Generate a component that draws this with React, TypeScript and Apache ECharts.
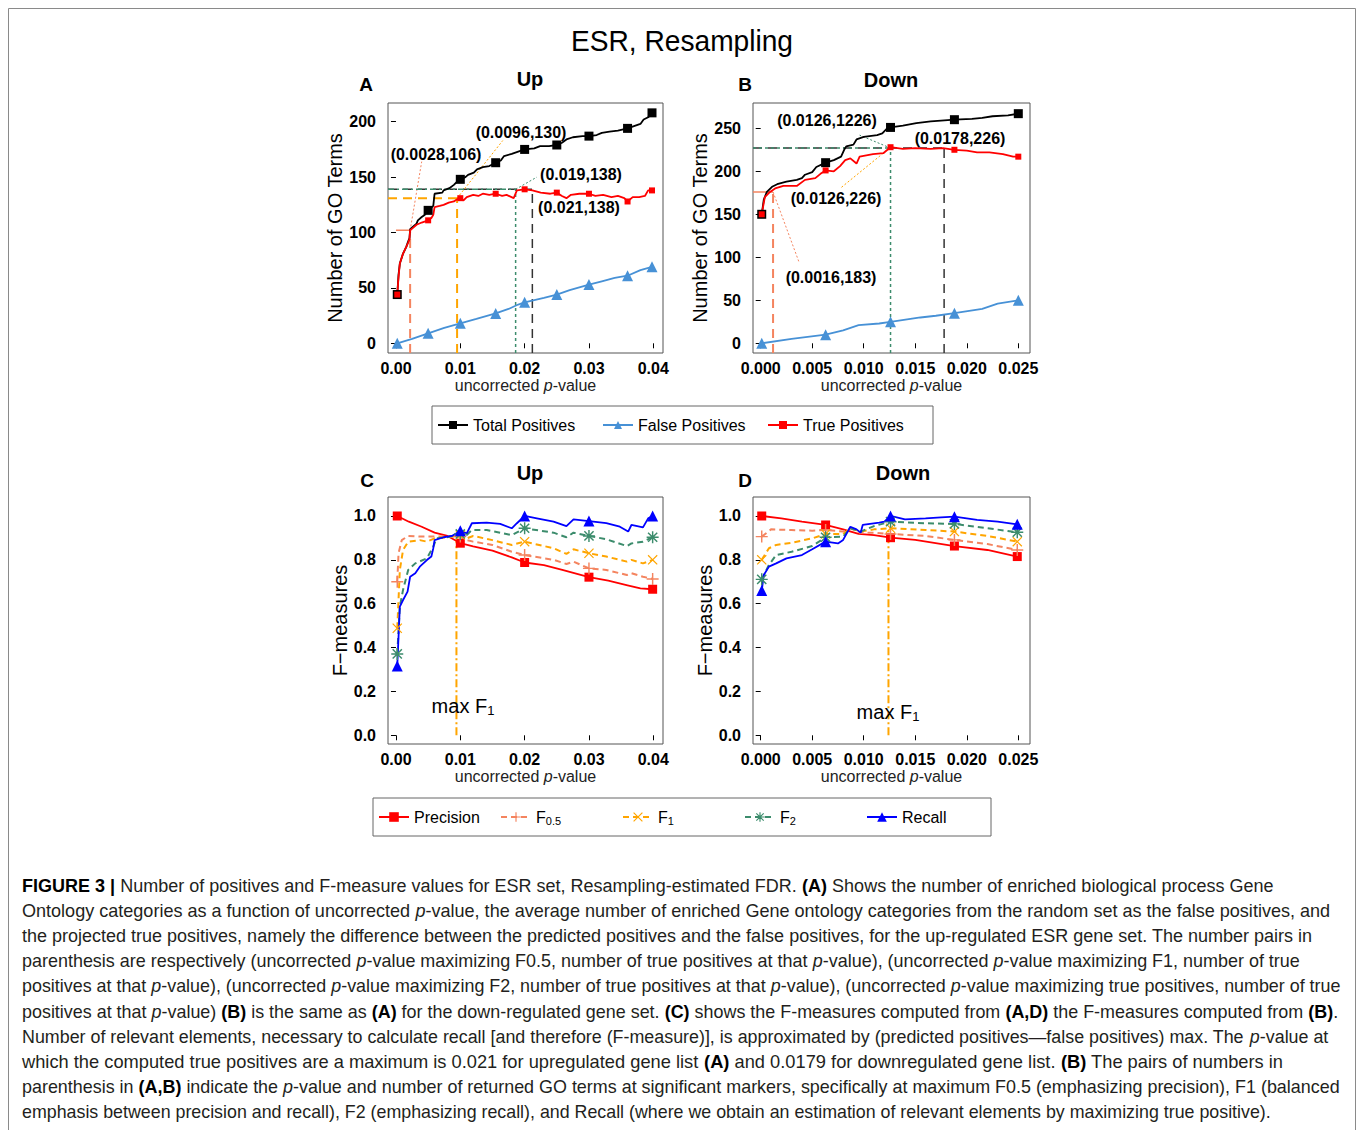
import React, { useEffect, useRef } from "react";
import * as echarts from "echarts";

const FONT = "'Liberation Sans', Arial, Helvetica, sans-serif";
const CAP = "#231f20";

// ---------- Panel A (Up): number of GO terms vs uncorrected p ----------
const totalUp: number[][] = [[0.0002,44],[0.0004,62],[0.0006,72],[0.0011,81],[0.0016,87],[0.0019,92],[0.0021,95],[0.0022,103],[0.0026,105],[0.0032,108],[0.0034,111],[0.0040,114],[0.0045,116],[0.0050,120],[0.0054,122],[0.0058,124],[0.0060,135],[0.0072,136],[0.0074,138],[0.0083,140],[0.0090,143],[0.0095,146],[0.0100,148],[0.0108,150],[0.0112,152],[0.0121,154],[0.0126,157],[0.0135,159],[0.0145,160],[0.0155,163],[0.0163,165],[0.0168,169],[0.0180,171],[0.0190,173],[0.0200,175],[0.0215,176],[0.0224,178],[0.0238,178],[0.0250,179],[0.0258,181],[0.0265,184],[0.0275,186],[0.0290,187],[0.0300,187],[0.0312,188],[0.0320,190],[0.0332,191],[0.0345,192],[0.0360,194],[0.0370,196],[0.0380,198],[0.0385,202],[0.0392,204],[0.0398,208]];
const trueUp: number[][] = [[0.0002,44],[0.0004,60],[0.0006,72],[0.0011,81],[0.0016,87],[0.0019,91],[0.0021,94],[0.0022,102],[0.0026,104],[0.0032,107],[0.0040,109],[0.0050,111],[0.0055,113],[0.0058,116],[0.0060,123],[0.0068,124],[0.0074,125],[0.0082,127],[0.0090,128],[0.0095,130],[0.0100,131],[0.0105,129],[0.0110,132],[0.0120,134],[0.0128,133],[0.0135,135],[0.0145,134],[0.0155,135],[0.0165,133],[0.0172,134],[0.0183,131],[0.0188,138],[0.0200,139],[0.0212,138],[0.0225,136],[0.0240,135],[0.0250,136],[0.0258,133],[0.0265,131],[0.0272,134],[0.0285,135],[0.0300,135],[0.0310,133],[0.0322,134],[0.0335,132],[0.0345,133],[0.0355,131],[0.0360,128],[0.0368,132],[0.0378,132],[0.0387,133],[0.0392,138],[0.0398,138]];
const falseUp: number[][] = [[0.0002,0],[0.0025,4],[0.0050,9],[0.0075,14],[0.0100,18],[0.0125,22],[0.0155,27],[0.0175,31],[0.0190,35],[0.0200,37],[0.0215,39],[0.0230,41],[0.0250,44],[0.0270,48],[0.0300,53],[0.0320,56],[0.0340,59],[0.0360,61],[0.0380,66],[0.0398,69]];
const marksA = [0.0002, 0.005, 0.01, 0.0155, 0.02, 0.025, 0.03, 0.036, 0.0398];

// ---------- Panel B (Down) ----------
const totalDown: number[][] = [[0.0001,150],[0.0003,167],[0.0006,176],[0.0011,182],[0.0016,185],[0.0025,188],[0.0035,190],[0.0040,192],[0.0043,196],[0.0050,199],[0.0054,205],[0.0063,210],[0.0071,213],[0.0078,217],[0.0081,225],[0.0083,229],[0.0090,231],[0.0093,237],[0.0100,240],[0.0113,242],[0.0118,244],[0.0122,249],[0.0126,251],[0.0138,253],[0.0151,256],[0.0165,258],[0.0175,259],[0.0188,260],[0.0205,261],[0.0215,262],[0.0225,264],[0.0240,265],[0.0250,267]];
const trueDown: number[][] = [[0.0001,150],[0.0004,170],[0.0009,176],[0.0014,180],[0.0022,183],[0.0035,183],[0.0043,190],[0.0053,192],[0.0058,197],[0.0063,201],[0.0071,200],[0.0077,206],[0.0082,213],[0.0087,215],[0.0093,209],[0.0096,217],[0.0109,220],[0.0119,221],[0.0125,227],[0.0126,228],[0.0138,226],[0.0150,227],[0.0165,226],[0.0177,227],[0.0188,225],[0.0200,224],[0.0210,222],[0.0222,222],[0.0235,220],[0.0245,217],[0.0250,217]];
const falseDown: number[][] = [[0.0001,0],[0.0030,5],[0.0063,10],[0.0080,15],[0.0095,21],[0.0115,23],[0.0126,25],[0.0155,30],[0.0170,32],[0.0188,35],[0.0215,40],[0.0230,46],[0.0250,50]];
const marksB = [0.0001, 0.0063, 0.0126, 0.0188, 0.025];

// ---------- Panel C (Up): F-measures ----------
const precUp: number[][] = [[0.0002,1.0],[0.0020,0.974],[0.0040,0.951],[0.0060,0.924],[0.0080,0.909],[0.0095,0.885],[0.0100,0.876],[0.0120,0.862],[0.0150,0.842],[0.0180,0.811],[0.0200,0.788],[0.0230,0.776],[0.0260,0.753],[0.0300,0.721],[0.0330,0.705],[0.0360,0.684],[0.0380,0.670],[0.0399,0.666]];
const recallUp: number[][] = [[0.0002,0.316],[0.0004,0.45],[0.0006,0.587],[0.0011,0.617],[0.0018,0.655],[0.0022,0.723],[0.0030,0.739],[0.0037,0.769],[0.0048,0.799],[0.0055,0.815],[0.0058,0.853],[0.0060,0.89],[0.0074,0.903],[0.0087,0.909],[0.0094,0.921],[0.0100,0.933],[0.0110,0.921],[0.0118,0.967],[0.0141,0.970],[0.0162,0.964],[0.0180,0.944],[0.0188,0.967],[0.0200,1.0],[0.0219,0.989],[0.0245,0.974],[0.0265,0.954],[0.0276,0.985],[0.0300,0.977],[0.0327,0.967],[0.0348,0.951],[0.0361,0.929],[0.0366,0.959],[0.0384,0.948],[0.0392,0.989],[0.0399,1.0]];
const f2Up: number[][] = [[0.0002,0.371],[0.0006,0.587],[0.0011,0.663],[0.0019,0.754],[0.0030,0.784],[0.0048,0.807],[0.0058,0.86],[0.0063,0.898],[0.0079,0.903],[0.0100,0.918],[0.0110,0.913],[0.0118,0.936],[0.0141,0.936],[0.0180,0.913],[0.0200,0.944],[0.0245,0.924],[0.0265,0.903],[0.0276,0.924],[0.0300,0.909],[0.0327,0.894],[0.0359,0.863],[0.0366,0.875],[0.0384,0.883],[0.0399,0.903]];
const f1Up: number[][] = [[0.0002,0.488],[0.0006,0.754],[0.0011,0.845],[0.0019,0.883],[0.0037,0.890],[0.0048,0.883],[0.0060,0.898],[0.0079,0.903],[0.0100,0.913],[0.0110,0.898],[0.0120,0.909],[0.0150,0.890],[0.0180,0.868],[0.0200,0.883],[0.0245,0.853],[0.0265,0.827],[0.0276,0.848],[0.0300,0.830],[0.0327,0.815],[0.0359,0.792],[0.0366,0.800],[0.0384,0.784],[0.0399,0.800]];
const f05Up: number[][] = [[0.0002,0.700],[0.0004,0.830],[0.0009,0.890],[0.0019,0.909],[0.0037,0.906],[0.0060,0.906],[0.0079,0.906],[0.0100,0.906],[0.0110,0.890],[0.0120,0.883],[0.0150,0.868],[0.0180,0.837],[0.0200,0.822],[0.0245,0.800],[0.0265,0.781],[0.0276,0.792],[0.0300,0.761],[0.0327,0.754],[0.0359,0.731],[0.0366,0.739],[0.0384,0.723],[0.0399,0.713]];
const marksC = [0.0002, 0.01, 0.02, 0.03, 0.0399];

// ---------- Panel D (Down): F-measures ----------
const precDown: number[][] = [[0.0001,1.0],[0.0020,0.989],[0.0040,0.974],[0.0063,0.959],[0.0080,0.939],[0.0095,0.918],[0.0110,0.913],[0.0126,0.901],[0.0150,0.891],[0.0188,0.863],[0.0220,0.845],[0.0249,0.815]];
const recallDown: number[][] = [[0.0001,0.660],[0.0003,0.731],[0.0008,0.769],[0.0015,0.784],[0.0025,0.807],[0.0040,0.822],[0.0050,0.848],[0.0063,0.883],[0.0075,0.875],[0.0080,0.891],[0.0087,0.951],[0.0093,0.939],[0.0097,0.924],[0.0099,0.959],[0.0115,0.970],[0.0120,0.974],[0.0126,1.0],[0.0140,0.985],[0.0160,0.989],[0.0175,0.994],[0.0188,0.997],[0.0210,0.982],[0.0230,0.974],[0.0249,0.962]];
const f2Down: number[][] = [[0.0001,0.711],[0.0008,0.777],[0.0015,0.822],[0.0030,0.837],[0.0050,0.863],[0.0063,0.903],[0.0080,0.906],[0.0087,0.944],[0.0097,0.929],[0.0110,0.954],[0.0126,0.974],[0.0160,0.967],[0.0188,0.964],[0.0220,0.944],[0.0249,0.926]];
const f1Down: number[][] = [[0.0001,0.800],[0.0008,0.853],[0.0015,0.868],[0.0030,0.878],[0.0050,0.898],[0.0063,0.918],[0.0080,0.918],[0.0087,0.944],[0.0097,0.929],[0.0110,0.939],[0.0126,0.944],[0.0160,0.936],[0.0188,0.929],[0.0220,0.909],[0.0249,0.883]];
const f05Down: number[][] = [[0.0001,0.906],[0.0010,0.939],[0.0030,0.936],[0.0050,0.933],[0.0063,0.936],[0.0080,0.929],[0.0087,0.944],[0.0097,0.924],[0.0110,0.924],[0.0126,0.918],[0.0160,0.909],[0.0188,0.891],[0.0220,0.872],[0.0249,0.845]];
const marksD = [0.0001, 0.0063, 0.0126, 0.0188, 0.0249];

// ---------- Ticks ----------
const ticksPUp = [0, 0.01, 0.02, 0.03, 0.04];
const ticksPDown = [0, 0.005, 0.01, 0.015, 0.02, 0.025];
const ticksGoUp = [0, 50, 100, 150, 200];
const ticksGoDown = [0, 50, 100, 150, 200, 250];
const ticksF = [0, 0.2, 0.4, 0.6, 0.8, 1.0];

// ---------- Significant markers [p, GO terms] ----------
const sigUpF05 = [0.0022, 102];
const sigUpF1 = [0.0095, 131];
const sigUpF2 = [0.0186, 139];
const sigUpMax = [0.0212, 139];
const sigDnF05 = [0.0012, 176];
const sigDnF1 = [0.0125, 227];
const sigDnF2 = [0.0126, 227];
const sigDnMax = [0.0178, 227];
const maxF1Up = [0.0094, 0.89];
const maxF1Dn = [0.0124, 0.94];
// pointer ends (label anchors) in data space
const ptrUpF05 = [0.0040, 164];
const ptrUpF1 = [0.0166, 183];
const ptrUpF2 = [0.0219, 150];
const ptrDnF05 = [0.0037, 95];
const ptrDnF1 = [0.0077, 180];
const ptrDnF2 = [0.0096, 242];

const legendTop = ["Total Positives", "False Positives", "True Positives"];
const legendBottom = ["Precision", "F0.5", "F1", "F2", "Recall"];

const captionLines = [
  "{b|FIGURE 3 |} Number of positives and F-measure values for ESR set, Resampling-estimated FDR. {b|(A)} Shows the number of enriched biological process Gene",
  "Ontology categories as a function of uncorrected {i|p}-value, the average number of enriched Gene ontology categories from the random set as the false positives, and",
  "the projected true positives, namely the difference between the predicted positives and the false positives, for the up-regulated ESR gene set. The number pairs in",
  "parenthesis are respectively (uncorrected {i|p}-value maximizing F0.5, number of true positives at that {i|p}-value), (uncorrected {i|p}-value maximizing F1, number of true",
  "positives at that {i|p}-value), (uncorrected {i|p}-value maximizing F2, number of true positives at that {i|p}-value), (uncorrected {i|p}-value maximizing true positives, number of true",
  "positives at that {i|p}-value) {b|(B)} is the same as {b|(A)} for the down-regulated gene set. {b|(C)} shows the F-measures computed from {b|(A,D)} the F-measures computed from {b|(B)}.",
  "Number of relevant elements, necessary to calculate recall [and therefore (F-measure)], is approximated by (predicted positives\u2014false positives) max. The {i|p}-value at",
  "which the computed true positives are a maximum is 0.021 for upregulated gene list {b|(A)} and 0.0179 for downregulated gene list. {b|(B)} The pairs of numbers in",
  "parenthesis in {b|(A,B)} indicate the {i|p}-value and number of returned GO terms at significant markers, specifically at maximum F0.5 (emphasizing precision), F1 (balanced",
  "emphasis between precision and recall), F2 (emphasizing recall), and Recall (where we obtain an estimation of relevant elements by maximizing true positive).",
];
const captionRight = [1274, 1331, 1313, 1300, 1341, 1338, 1328, 1283, 1340, 1271];

// ---------- Layout ----------
const X_UP = [-0.00124, 0.04151];
const X_DN = [-0.000747, 0.026135];
const Y_GO_UP = [-8.75, 216.9];
const Y_GO_DN = [-11.3, 279.4];
const Y_F = [-0.0397, 1.0866];

const C_BLACK = "#000000";
const C_RED = "#ff0000";
const C_STEEL = "#4791d6";
const C_BLUE = "#0000ff";
const C_CORAL = "#f4845f";
const C_ORANGE = "#ffa500";
const C_GREEN = "#3c8c6c";

const PLUS = "path://M4.4,0L5.6,0L5.6,4.4L10,4.4L10,5.6L5.6,5.6L5.6,10L4.4,10L4.4,5.6L0,5.6L0,4.4L4.4,4.4Z";
const CROSS = "path://M0.85,0L5,4.15L9.15,0L10,0.85L5.85,5L10,9.15L9.15,10L5,5.85L0.85,10L0,9.15L4.15,5L0,0.85Z";
const STAR = "path://M4.4,0L5.6,0L5.6,4.4L10,4.4L10,5.6L5.6,5.6L5.6,10L4.4,10L4.4,5.6L0,5.6L0,4.4L4.4,4.4Z M1.6,0.75L5,4.15L8.4,0.75L9.25,1.6L5.85,5L9.25,8.4L8.4,9.25L5,5.85L1.6,9.25L0.75,8.4L4.15,5L0.75,1.6Z";

function curve(name: string, idx: number, pts: number[][], marks: number[], color: string, symbol: string, symbolSize: number, type: any, width: number, z = 3) {
  return {
    type: "line", name, xAxisIndex: idx, yAxisIndex: idx,
    data: pts.map(([x, y]) => marks.some((m) => Math.abs(m - x) < 1e-7) ? [x, y] : { value: [x, y], symbol: "none" }),
    symbol, symbolSize, showSymbol: true, showAllSymbol: true,
    lineStyle: { color, width, type },
    itemStyle: { color, opacity: 1 },
    z, silent: true, animation: false,
  };
}
function seg(idx: number, pts: number[][], color: string, width: number, type: any, z = 2) {
  return { type: "line", xAxisIndex: idx, yAxisIndex: idx, data: pts, symbol: "none", lineStyle: { color, width, type }, silent: true, z, animation: false };
}

function xAx(idx: number, range: number[], ticks: number[], dec: number) {
  return {
    type: "value", gridIndex: idx, min: range[0], max: range[1],
    name: "{n|uncorrected }{i|p}{n|-value}", nameLocation: "middle", nameGap: 24,
    nameTextStyle: {
      fontSize: 16, fontFamily: FONT, color: "#222",
      rich: {
        n: { fontSize: 16, fontFamily: FONT, color: "#222" },
        i: { fontSize: 16, fontFamily: FONT, color: "#222", fontStyle: "italic" },
      },
    },
    axisLine: { show: false }, splitLine: { show: false },
    axisTick: { show: true, length: 5, inside: false, customValues: ticks, lineStyle: { color: "#000", width: 1 } },
    axisLabel: { show: true, customValues: ticks, formatter: (v: number) => v.toFixed(dec), fontSize: 16, fontWeight: "bold", fontFamily: FONT, color: "#000", margin: 7, hideOverlap: false },
  };
}
function yAx(idx: number, range: number[], ticks: number[], dec: number, name: string, gap: number) {
  return {
    type: "value", gridIndex: idx, min: range[0], max: range[1],
    name, nameLocation: "middle", nameGap: gap,
    nameTextStyle: { fontSize: 20, fontFamily: FONT, color: "#000" },
    axisLine: { show: false }, splitLine: { show: false },
    axisTick: { show: true, length: 5, inside: false, customValues: ticks, lineStyle: { color: "#000", width: 1 } },
    axisLabel: { show: true, customValues: ticks, formatter: (v: number) => v.toFixed(dec), fontSize: 16, fontWeight: "bold", fontFamily: FONT, color: "#000", margin: 12, hideOverlap: false },
  };
}

let measureCtx: CanvasRenderingContext2D | null = null;
function measureRich(str: string, size: number) {
  if (!measureCtx) measureCtx = document.createElement("canvas").getContext("2d");
  const ctx = measureCtx!;
  let w = 0;
  const re = /\{(\w)\|([^}]*)\}|([^{]+)/g;
  let m: RegExpExecArray | null;
  while ((m = re.exec(str))) {
    const st = m[1] || "n";
    const t = m[1] ? m[2] : m[3];
    ctx.font = `${st === "i" ? "italic " : ""}${st === "b" ? "bold " : ""}${size}px ${FONT}`;
    w += ctx.measureText(t).width;
  }
  return w;
}

function txt(text: string, x: number, y: number, o: any = {}) {
  const align = o.align || "center";
  return {
    type: "text", x, y, silent: true, z: 10, scaleX: o.scaleX || 1,
    style: {
      text, fill: o.fill || "#000", fontSize: o.size || 16, fontFamily: FONT,
      fontWeight: o.weight || "normal", fontStyle: "normal",
      align, textAlign: align, verticalAlign: "middle", textVerticalAlign: "middle",
      lineHeight: o.lineHeight, rich: o.rich,
    },
  };
}

export default function App() {
  const ref = useRef<HTMLDivElement>(null);
  useEffect(() => {
    document.body.style.margin = "0";
    const chart = echarts.init(ref.current!, null, { renderer: "svg" });

    const capRich = {
      b: { fontSize: 18, fontFamily: FONT, fontWeight: "bold", fontStyle: "normal", fill: "#000" },
      i: { fontSize: 18, fontFamily: FONT, fontWeight: "normal", fontStyle: "italic", fill: CAP },
    };
    const caption = captionLines.map((line, k) => {
      const w = measureRich(line, 18);
      const sx = (captionRight[k] - 22) / w;
      return txt(line, 22, 886 + k * 25.1, { size: 18, align: "left", fill: CAP, scaleX: sx, rich: capRich });
    });
    const titleScale = 222 / measureRich("ESR, Resampling", 30);

    const subRich = (size: number) => ({
      s: { fontSize: size, fontFamily: FONT, fill: "#000", verticalAlign: "bottom", lineHeight: 22, padding: [8, 0, 0, 0] },
    });

    const series: any[] = [
      // ----- A refs -----
      seg(0, [[sigUpMax[0], Y_GO_UP[0]], sigUpMax], "#333", 1.5, [9, 6]),
      seg(0, [[X_UP[0], sigUpMax[1]], sigUpMax], "#333", 1.5, [9, 6]),
      seg(0, [[sigUpF05[0], Y_GO_UP[0]], sigUpF05], C_CORAL, 2, [9, 6]),
      seg(0, [[0, sigUpF05[1]], sigUpF05], C_CORAL, 1.5, "solid"),
      seg(0, [sigUpF05, ptrUpF05], C_CORAL, 1, [2, 2]),
      seg(0, [[sigUpF1[0], Y_GO_UP[0]], sigUpF1], C_ORANGE, 2, [9, 6]),
      seg(0, [[X_UP[0], sigUpF1[1]], sigUpF1], C_ORANGE, 2, [9, 6]),
      seg(0, [sigUpF1, ptrUpF1], C_ORANGE, 1, [2, 2]),
      seg(0, [[sigUpF2[0], Y_GO_UP[0]], sigUpF2], C_GREEN, 1.5, [3, 3]),
      seg(0, [[X_UP[0], sigUpF2[1]], sigUpF2], C_GREEN, 1.5, [6, 3, 2, 3]),
      seg(0, [sigUpF2, ptrUpF2], C_GREEN, 1, [2, 2]),
      // ----- A curves -----
      curve("Total Positives", 0, totalUp, marksA, C_BLACK, "rect", 9, "solid", 1.8),
      curve("False Positives", 0, falseUp, marksA, C_STEEL, "triangle", 11, "solid", 1.8),
      curve("True Positives", 0, trueUp, marksA, C_RED, "rect", 6, "solid", 1.8),
      // ----- B refs -----
      seg(1, [[sigDnMax[0], Y_GO_DN[0]], sigDnMax], "#333", 1.5, [9, 6]),
      seg(1, [[X_DN[0], sigDnMax[1]], sigDnMax], "#333", 1.5, [9, 6]),
      seg(1, [[sigDnF05[0], Y_GO_DN[0]], sigDnF05], C_CORAL, 2, [9, 6]),
      seg(1, [[X_DN[0], sigDnF05[1]], sigDnF05], C_CORAL, 1.5, "solid"),
      seg(1, [sigDnF05, ptrDnF05], C_CORAL, 1, [2, 2]),
      seg(1, [sigDnF1, ptrDnF1], C_ORANGE, 1, [2, 2]),
      seg(1, [[sigDnF2[0], Y_GO_DN[0]], sigDnF2], C_GREEN, 1.5, [3, 3]),
      seg(1, [[X_DN[0], sigDnF2[1]], sigDnF2], C_GREEN, 1.5, [3, 3]),
      seg(1, [sigDnF2, ptrDnF2], C_GREEN, 1, [2, 2]),
      // ----- B curves -----
      curve("Total Positives", 1, totalDown, marksB, C_BLACK, "rect", 9, "solid", 1.8),
      curve("False Positives", 1, falseDown, marksB, C_STEEL, "triangle", 11, "solid", 1.8),
      curve("True Positives", 1, trueDown, marksB, C_RED, "rect", 6, "solid", 1.8),
      // ----- C -----
      seg(2, [[maxF1Up[0], 0], maxF1Up], C_ORANGE, 2, [8, 3, 2, 3]),
      curve("Precision", 2, precUp, marksC, C_RED, "rect", 9, "solid", 1.8),
      curve("F0.5", 2, f05Up, marksC, C_CORAL, PLUS, 12, [6, 4], 2),
      curve("F1", 2, f1Up, marksC, C_ORANGE, CROSS, 10, [6, 4], 2),
      curve("F2", 2, f2Up, marksC, C_GREEN, STAR, 12, [6, 4], 2),
      curve("Recall", 2, recallUp, marksC, C_BLUE, "triangle", 11, "solid", 1.8),
      // ----- D -----
      seg(3, [[maxF1Dn[0], 0], maxF1Dn], C_ORANGE, 2, [8, 3, 2, 3]),
      curve("Precision", 3, precDown, marksD, C_RED, "rect", 9, "solid", 1.8),
      curve("F0.5", 3, f05Down, marksD, C_CORAL, PLUS, 12, [6, 4], 2),
      curve("F1", 3, f1Down, marksD, C_ORANGE, CROSS, 10, [6, 4], 2),
      curve("F2", 3, f2Down, marksD, C_GREEN, STAR, 12, [6, 4], 2),
      curve("Recall", 3, recallDown, marksD, C_BLUE, "triangle", 11, "solid", 1.8),
    ];

    const legendBase = {
      orient: "horizontal", itemWidth: 30, itemGap: 0,
      borderColor: "#666", borderWidth: 1, selectedMode: false,
    };

    const option: any = {
      animation: false,
      backgroundColor: "#fff",
      textStyle: { fontFamily: FONT },
      grid: [
        { left: 388, top: 103, width: 275, height: 250, show: true, borderColor: "#555", borderWidth: 1, backgroundColor: "transparent" },
        { left: 753, top: 103, width: 277, height: 250, show: true, borderColor: "#555", borderWidth: 1, backgroundColor: "transparent" },
        { left: 388, top: 497, width: 275, height: 247, show: true, borderColor: "#555", borderWidth: 1, backgroundColor: "transparent" },
        { left: 753, top: 497, width: 277, height: 247, show: true, borderColor: "#555", borderWidth: 1, backgroundColor: "transparent" },
      ],
      xAxis: [
        xAx(0, X_UP, ticksPUp, 2),
        xAx(1, X_DN, ticksPDown, 3),
        xAx(2, X_UP, ticksPUp, 2),
        xAx(3, X_DN, ticksPDown, 3),
      ],
      yAxis: [
        yAx(0, Y_GO_UP, ticksGoUp, 0, "Number of GO Terms", 41),
        yAx(1, Y_GO_DN, ticksGoDown, 0, "Number of GO Terms", 39),
        yAx(2, Y_F, ticksF, 1, "F\u2212measures", 38),
        yAx(3, Y_F, ticksF, 1, "F\u2212measures", 37),
      ],
      legend: [
        {
          ...legendBase, data: legendTop, left: 432, top: 406, padding: [10, 1, 10, 5], itemHeight: 10,
          textStyle: { fontSize: 16, fontFamily: FONT, color: "#000", width: 129, lineHeight: 18 },
        },
        {
          ...legendBase, data: legendBottom, left: 373, top: 798, padding: [10, 3, 10, 5], itemHeight: 12,
          formatter: (n: string) => (n.charAt(0) === "F" ? "F{s|" + n.slice(1) + "}" : n),
          textStyle: {
            fontSize: 16, fontFamily: FONT, color: "#000", width: 86, lineHeight: 18,
            rich: { s: { fontSize: 11, fontFamily: FONT, color: "#000", verticalAlign: "bottom", lineHeight: 18, padding: [6, 0, 0, 0] } },
          },
        },
      ],
      series,
      graphic: {
        elements: [
          { type: "rect", silent: true, z: 0, shape: { x: 8.5, y: 8.5, width: 1347, height: 1200 }, style: { fill: "none", stroke: "#8a8a8a", lineWidth: 1 } },
          txt("ESR, Resampling", 682, 41, { size: 30, scaleX: titleScale }),
          txt("A", 366, 84, { size: 19, weight: "bold" }),
          txt("Up", 530, 79, { size: 20, weight: "bold" }),
          txt("B", 745, 84, { size: 19, weight: "bold" }),
          txt("Down", 891, 80, { size: 20, weight: "bold" }),
          txt("C", 367, 480, { size: 19, weight: "bold" }),
          txt("Up", 530, 473, { size: 20, weight: "bold" }),
          txt("D", 745, 480, { size: 19, weight: "bold" }),
          txt("Down", 903, 473, { size: 20, weight: "bold" }),
          txt("(0.0028,106)", 436, 154, { size: 16, weight: "bold" }),
          txt("(0.0096,130)", 521, 132, { size: 16, weight: "bold" }),
          txt("(0.019,138)", 581, 174, { size: 16, weight: "bold" }),
          txt("(0.021,138)", 579, 207, { size: 16, weight: "bold" }),
          txt("(0.0126,1226)", 827, 120, { size: 16, weight: "bold" }),
          txt("(0.0178,226)", 960, 138, { size: 16, weight: "bold" }),
          txt("(0.0126,226)", 836, 198, { size: 16, weight: "bold" }),
          txt("(0.0016,183)", 831, 277, { size: 16, weight: "bold" }),
          txt("max F{s|1}", 463, 706, { size: 20, lineHeight: 22, rich: subRich(13) }),
          txt("max F{s|1}", 888, 712, { size: 20, lineHeight: 22, rich: subRich(13) }),
          ...caption,
        ],
      },
    };
    chart.setOption(option);
    return () => chart.dispose();
  }, []);
  return <div ref={ref} style={{ width: 1358, height: 1130 }} />;
}
